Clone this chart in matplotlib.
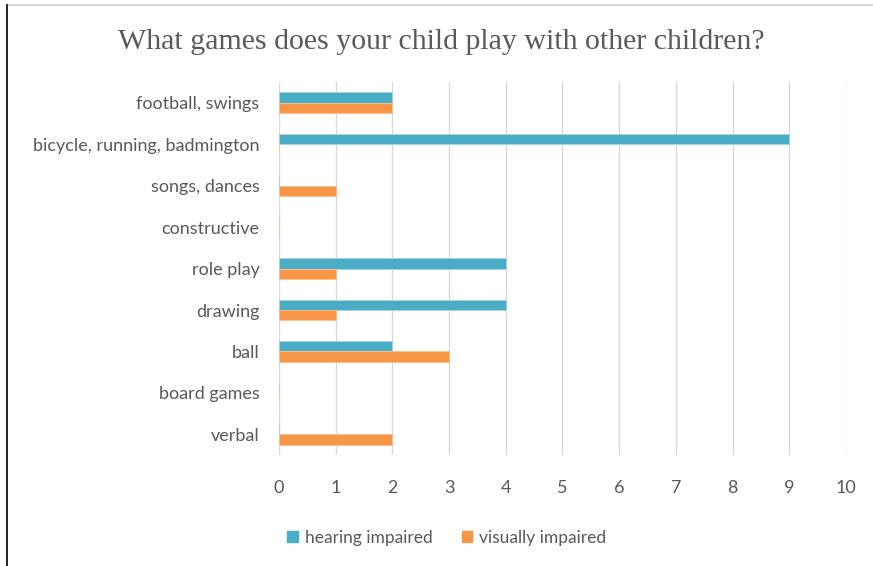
import matplotlib.pyplot as plt
import numpy as np
from matplotlib.lines import Line2D
from matplotlib.patches import Patch

categories = ["football, swings", "bicycle, running, badmington", "songs, dances",
              "constructive", "role play", "drawing", "ball", "board games", "verbal"]
hearing = [2, 9, 0, 0, 4, 4, 2, 0, 0]
visual = [2, 0, 1, 0, 1, 1, 3, 0, 2]
x_ticks = list(range(0, 11))

teal = "#4BACC6"
orange = "#F79646"
text_col = "#595959"

fig = plt.figure(figsize=(8.73, 5.66), dpi=100)
ax = fig.add_axes([0.3196, 0.196, 0.6494, 0.659])

y = np.arange(len(categories))
h = 0.25
ax.barh(y - h / 2, hearing, height=h, color=teal, edgecolor="#A5D5E2", linewidth=0.6,
        label="hearing impaired", zorder=3)
ax.barh(y + h / 2, visual, height=h, color=orange, edgecolor="#FAC090", linewidth=0.6,
        label="visually impaired", zorder=3)

ax.set_ylim(len(categories) - 0.5, -0.5)
ax.set_xlim(0, 10)
ax.set_yticks(y)
ax.set_yticklabels(categories, fontfamily="Lato", fontsize=13, color=text_col)
ax.set_xticks(x_ticks)
ax.set_xticklabels([str(t) for t in x_ticks], fontfamily="Lato", fontsize=13, color=text_col)
ax.tick_params(axis="both", length=0)
ax.tick_params(axis="y", pad=14)
ax.tick_params(axis="x", pad=18)
for s in ax.spines.values():
    s.set_visible(False)
ax.grid(axis="x", color="#D9D9D9", linewidth=1, zorder=0)

fig.text(0.505, 0.925, "What games does your child play with other children?",
         ha="center", va="center", fontfamily="Liberation Serif", fontsize=21.5,
         color=text_col)

handles = [Patch(color=teal, label="hearing impaired"),
           Patch(color=orange, label="visually impaired")]
fig.legend(handles=handles, loc="center", bbox_to_anchor=(0.512, 0.05), ncol=2,
           frameon=False, prop={"family": "Lato", "size": 12.5}, labelcolor=text_col,
           handlelength=0.6, handleheight=0.6, handletextpad=0.4, columnspacing=1.7)

# outer frame pieces
fig.add_artist(Line2D([0.008, 0.999], [0.991, 0.991], color="#D9D9D9", linewidth=1.5))
fig.add_artist(Line2D([0.008, 0.008], [0.0, 0.991], color="black", linewidth=1.2))

fig.savefig("out.png", dpi=100)
